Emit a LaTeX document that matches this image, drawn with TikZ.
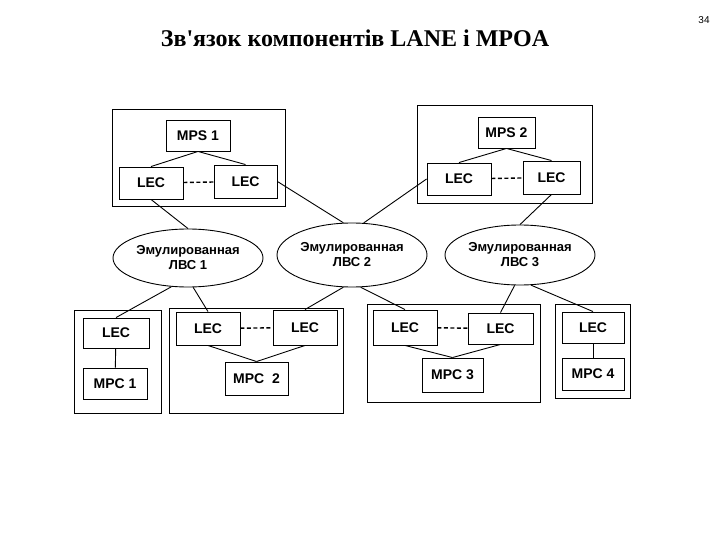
\documentclass[tikz,border=0pt]{standalone}
\usepackage{fontspec}
\setmainfont{Liberation Serif}
\newfontfamily\lanefont{Liberation Sans}
\usetikzlibrary{shapes.geometric}

\begin{document}
\begin{tikzpicture}[x=1pt, y=-1pt, line width=0.9pt,
    unit/.style={draw, rectangle, inner sep=0pt, font=\lanefont\bfseries\fontsize{14}{14}\selectfont},
    lan/.style={draw, ellipse, inner sep=0pt, minimum width=150pt, align=center,
                font=\lanefont\bfseries\fontsize{13}{15}\selectfont},
    frame/.style={draw, line width=1pt},
    link/.style={line width=0.9pt},
    emul/.style={dashed, dash pattern=on 4pt off 2.5pt, line width=1.4pt}]
    \useasboundingbox (0,0) rectangle (720,540);

    % Title and page number
    \node[anchor=base, font=\bfseries\fontsize{24}{24}\selectfont] (title) at (355,47) {Зв\textquotesingle язок компонентів LANE і MPOA};
    \node[font=\lanefont\fontsize{10}{10}\selectfont] (page) at (704,20) {34};

    % Upper frames with MPS
    \draw[frame] (112,110) rectangle (285,207);
    \draw[frame] (417,106) rectangle (592,204);
    \node[unit, minimum width=64pt, minimum height=31pt] (mps1) at (198,135.5) {MPS 1};
    \node[unit, minimum width=64pt, minimum height=32pt] (lecA) at (151,183) {LEC};
    \node[unit, minimum width=63pt, minimum height=33pt] (lecB) at (245.5,181.5) {LEC};
    \node[unit, minimum width=57pt, minimum height=31pt] (mps2) at (506.5,132.5) {MPS 2};
    \node[unit, minimum width=64pt, minimum height=32pt] (lecC) at (459,179) {LEC};
    \node[unit, minimum width=57pt, minimum height=33pt] (lecD) at (551.5,177.5) {LEC};

    % Emulated LANs
    \node[lan, minimum height=58pt] (lan1) at (188,258) {Эмулированная\\ЛВС 1};
    \node[lan, minimum height=64pt] (lan2) at (352,255) {Эмулированная\\ЛВС 2};
    \node[lan, minimum height=60pt] (lan3) at (520,255) {Эмулированная\\ЛВС 3};

    % Lower frames with MPC
    \draw[frame] (74,310) rectangle (161,413);
    \draw[frame] (169,308) rectangle (343,413);
    \draw[frame] (367,304) rectangle (540,402);
    \draw[frame] (555,304) rectangle (630,398);
    \node[unit, minimum width=66pt, minimum height=30pt] (lecE) at (116,333) {LEC};
    \node[unit, minimum width=64pt, minimum height=31pt] (mpc1) at (115,383.5) {MPC 1};
    \node[unit, minimum width=64pt, minimum height=33pt] (lecF) at (208,328.5) {LEC};
    \node[unit, minimum width=64pt, minimum height=35pt] (lecG) at (305,327.5) {LEC};
    \node[unit, minimum width=63pt, minimum height=33pt] (mpc2) at (256.5,378.5) {MPC\ \ 2};
    \node[unit, minimum width=64pt, minimum height=35pt] (lecH) at (405,327.5) {LEC};
    \node[unit, minimum width=65pt, minimum height=31pt] (lecI) at (500.5,328.5) {LEC};
    \node[unit, minimum width=61pt, minimum height=34pt] (mpc3) at (452.5,375) {MPC 3};
    \node[unit, minimum width=62pt, minimum height=31pt] (lecJ) at (593,327.5) {LEC};
    \node[unit, minimum width=62pt, minimum height=32pt] (mpc4) at (593,374) {MPC 4};

    % Links inside frames
    \draw[link] (mps1.south) -- (lecA.north);
    \draw[link] (mps1.south) -- (lecB.north);
    \draw[link] (mps2.south) -- (lecC.north);
    \draw[link] (mps2.south) -- (lecD.north);
    \draw[emul] (lecA) -- (lecB);
    \draw[emul] (lecC) -- (lecD);
    \draw[link] (lecE) -- (mpc1);
    \draw[link] (lecF.south) -- (mpc2.north);
    \draw[link] (lecG.south) -- (mpc2.north);
    \draw[emul] (lecF) -- (lecG);
    \draw[link] (lecH.south) -- (mpc3.north);
    \draw[link] (lecI.south) -- (mpc3.north);
    \draw[emul] (lecH) -- (lecI);
    \draw[link] (lecJ) -- (mpc4);

    % LEC to emulated LAN
    \draw[link] (lecA.south) -- (lan1.north);
    \draw[link] (lecB.east) -- (lan2.105);
    \draw[link] (lecC.west) -- (lan2.70);
    \draw[link] (lecD.south) -- (lan3.north);
    \draw[link] (lan1.240) -- (lecE.north);
    \draw[link] (lan1.280) -- (lecF.north);
    \draw[link] (lan2.255) -- (lecG.north);
    \draw[link] (lan2.285) -- (lecH.north);
    \draw[link] (lan3.260) -- (lecI.north);
    \draw[link] (lan3.290) -- (lecJ.north);
\end{tikzpicture}
\end{document}
